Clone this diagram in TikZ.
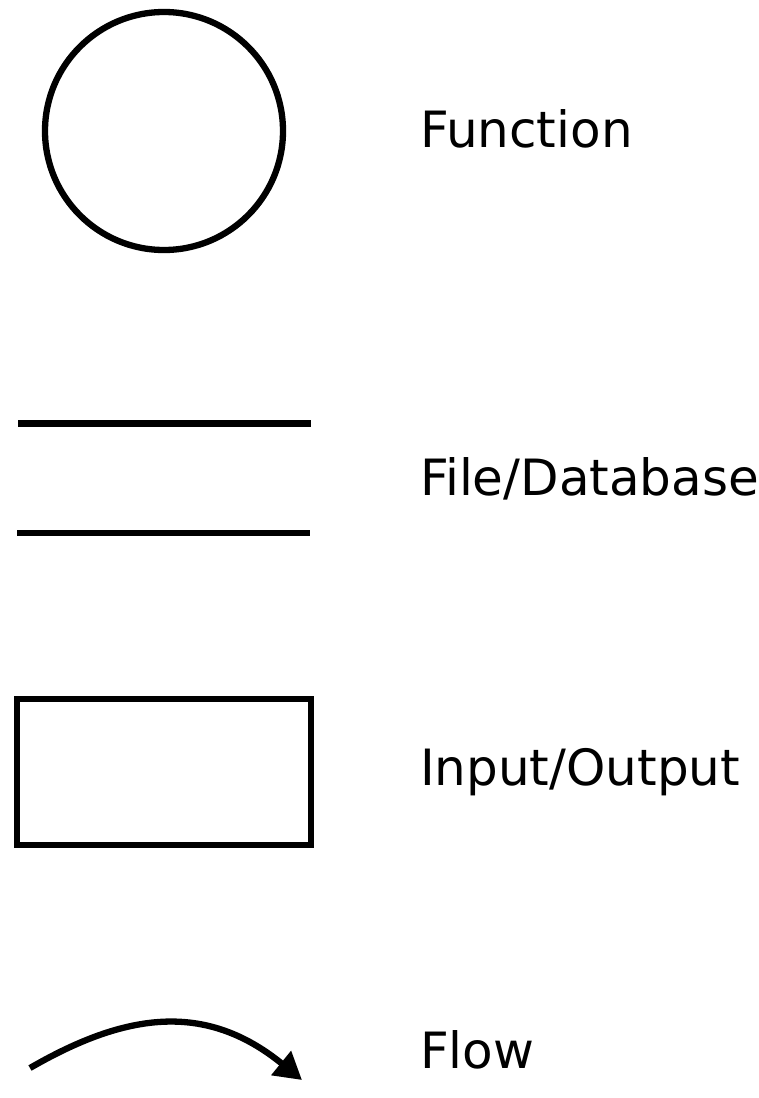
\documentclass[tikz,border=0pt]{standalone}
\usepackage{fontspec}
\setmainfont{DejaVu Sans}
\usetikzlibrary{arrows.meta}
\tikzset{
  symbol/.style={draw=black, line width=6.3pt},
  legendtext/.style={anchor=base west, inner sep=0pt, outer sep=0pt,
    font=\fontsize{50}{60}\selectfont, text=black}
}
\begin{document}
\begin{tikzpicture}[x=1pt, y=-1pt]
  \useasboundingbox[fill=white] (0,0) rectangle (758,1098);
  % Function
  \draw[symbol] (164,131) circle[radius=119];
  \node[legendtext] (function) at (420,147) {Function};
  % File/Database
  \draw[symbol] (18,423.5) -- (311,423.5);
  \draw[symbol] (17,533) -- (310,533);
  \node[legendtext] (file) at (420,495) {File/Database};
  % Input/Output
  \draw[symbol] (17,699) rectangle (311,845);
  \node[legendtext] (io) at (420,785) {Input/Output};
  % Flow
  \draw[symbol, -{Triangle[length=27pt, width=30pt]}]
    (30,1068) .. controls (125,1013) and (205,1001) .. (302,1080);
  \node[legendtext] (flow) at (420,1068) {Flow};
\end{tikzpicture}
\end{document}
